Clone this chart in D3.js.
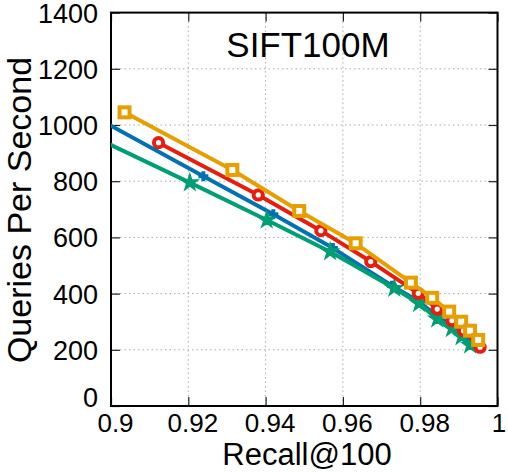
<!DOCTYPE html>
<html><head><meta charset="utf-8">
<script src="https://cdn.jsdelivr.net/npm/d3@7"></script>
<style>body{margin:0;background:#fff}svg{display:block}text{font-family:"Liberation Sans",Arial,sans-serif}</style>
</head><body><svg id="c" width="508" height="472"></svg>
<script>
const xTicks = [0.9, 0.92, 0.94, 0.96, 0.98, 1];
const yTicks = [0, 200, 400, 600, 800, 1000, 1200, 1400];
const xTickLabels = ["0.9", "0.92", "0.94", "0.96", "0.98", "1"];
const yTickLabels = ["0", "200", "400", "600", "800", "1000", "1200", "1400"];

const blueX   = [0.8950, 0.9239, 0.9420, 0.9574, 0.9727, 0.9793, 0.9842, 0.9880, 0.9905, 0.9927];
const blueY   = [1035, 818, 682, 562, 428, 375, 322, 287, 258, 230];
const greenX  = [0.8930, 0.9204, 0.9403, 0.9567, 0.9733, 0.9797, 0.9844, 0.9882, 0.9907, 0.9929];
const greenY  = [975, 795, 662, 549, 419, 365, 310, 276, 247, 217];
const redX    = [0.9123, 0.9381, 0.9543, 0.9672, 0.9795, 0.9844, 0.9882, 0.9912, 0.9955];
const redY    = [937, 751, 624, 514, 401, 345, 304, 268, 209];
const orangeX = [0.9035, 0.9314, 0.9487, 0.9633, 0.9776, 0.9831, 0.9875, 0.9906, 0.9929, 0.9950];
const orangeY = [1045, 840, 694, 579, 439, 385, 336, 300, 268, 235];

const series = [
  {name:"blue", color:"#0072B2", xs:blueX, ys:blueY, marker:"plus"},
  {name:"green", color:"#009E73", xs:greenX, ys:greenY, marker:"star"},
  {name:"red", color:"#E51E10", xs:redX, ys:redY, marker:"circle"},
  {name:"orange", color:"#E69F00", xs:orangeX, ys:orangeY, marker:"square"}
];

const L = 111, R = 497.5, T = 12.6, B = 406;
const svg = d3.select("#c");
const x = d3.scaleLinear().domain([0.9, 1]).range([L, R]);
const y = d3.scaleLinear().domain([0, 1400]).range([B, T]);

svg.append("defs").append("clipPath").attr("id","clip")
  .append("rect").attr("x",L).attr("y",T).attr("width",R-L).attr("height",B-T);

// grid
const grid = svg.append("g");
grid.selectAll(".gx").data(xTicks.slice(1,-1)).join("line")
  .attr("x1",d=>x(d)).attr("x2",d=>x(d)).attr("y1",T).attr("y2",B)
  .attr("stroke","#aaa").attr("stroke-width",1).attr("stroke-dasharray","1.5,3");
grid.selectAll(".gy").data(yTicks.slice(1,-1)).join("line")
  .attr("x1",L).attr("x2",R).attr("y1",d=>y(d)).attr("y2",d=>y(d))
  .attr("stroke","#aaa").attr("stroke-width",1).attr("stroke-dasharray","1.5,3");

// axes with inward ticks
const tickLen = 9;
const axB = svg.append("g").attr("transform",`translate(0,${B})`)
  .call(d3.axisBottom(x).tickValues(xTicks).tickFormat((d,i)=>xTickLabels[i]).tickSizeInner(-tickLen).tickSizeOuter(0));
const axT = svg.append("g").attr("transform",`translate(0,${T})`)
  .call(d3.axisTop(x).tickValues(xTicks).tickFormat("").tickSizeInner(-tickLen).tickSizeOuter(0));
const axL = svg.append("g").attr("transform",`translate(${L},0)`)
  .call(d3.axisLeft(y).tickValues(yTicks).tickFormat((d,i)=>yTickLabels[i]).tickSizeInner(-tickLen).tickSizeOuter(0));
const axR = svg.append("g").attr("transform",`translate(${R},0)`)
  .call(d3.axisRight(y).tickValues(yTicks).tickFormat("").tickSizeInner(-tickLen).tickSizeOuter(0));
[axB,axT,axL,axR].forEach(a=>{
  a.select(".domain").remove();
  a.selectAll(".tick line").attr("stroke","#222").attr("stroke-width",1.2);
});
axB.selectAll("text").attr("font-size",26).attr("fill","#000").attr("dy",null).attr("y",25.5)
  .attr("dx",d=>d===1?1:4)
  .style("font-family","Liberation Sans, Arial, sans-serif");
axL.selectAll("text").attr("font-size",27).attr("fill","#000").attr("x",-13)
  .attr("dy",d=>d===0?"0.0em":"0.35em")
  .style("font-family","Liberation Sans, Arial, sans-serif");

// frame
svg.append("rect").attr("x",L).attr("y",T).attr("width",R-L).attr("height",B-T)
  .attr("fill","none").attr("stroke","#000").attr("stroke-width",2);

// title
svg.append("text").attr("x",308).attr("y",57).attr("text-anchor","middle")
  .attr("font-size",35).attr("fill","#000").text("SIFT100M");

// axis titles
svg.append("text").attr("x",307).attr("y",465.3).attr("text-anchor","middle")
  .attr("font-size",31).attr("fill","#000").text("Recall@100");
svg.append("text").attr("transform","translate(31,210) rotate(-90)").attr("text-anchor","middle")
  .attr("font-size",34).attr("fill","#000").text("Queries Per Second");

// series
const plot = svg.append("g").attr("clip-path","url(#clip)");
const line = d3.line().x(d=>x(d[0])).y(d=>y(d[1]));
const starSym = d3.symbol().type(d3.symbolStar).size(80);
series.forEach(s=>{
  const pts = s.xs.map((v,i)=>[v, s.ys[i]]);
  const g = plot.append("g");
  g.append("path").datum(pts).attr("d",line).attr("fill","none")
    .attr("stroke",s.color).attr("stroke-width",4).attr("stroke-linejoin","round");
  const m = g.selectAll(".m").data(pts).join("g")
    .attr("transform",d=>`translate(${x(d[0])},${y(d[1])})`);
  if(s.marker==="square"){
    m.append("rect").attr("x",-5).attr("y",-5).attr("width",10).attr("height",10)
      .attr("fill","#fff").attr("stroke",s.color).attr("stroke-width",4);
  } else if(s.marker==="circle"){
    m.append("circle").attr("r",4.6).attr("fill","#fff").attr("stroke",s.color).attr("stroke-width",4);
  } else if(s.marker==="star"){
    m.append("path").attr("d",starSym).attr("fill",s.color).attr("stroke",s.color).attr("stroke-width",1.5);
  } else {
    m.append("path").attr("d","M-5,0H5M0,-5V5").attr("stroke",s.color).attr("stroke-width",4);
  }
});
</script></body></html>
